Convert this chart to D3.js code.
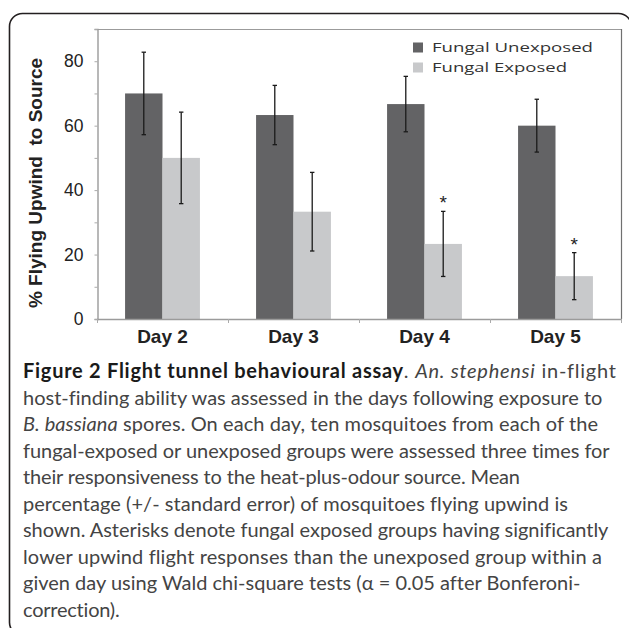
<!DOCTYPE html>
<html><head><meta charset="utf-8">
<script src="https://cdn.jsdelivr.net/npm/d3@7"></script>
<style>body{margin:0;background:#fff} svg{display:block}</style>
</head><body>
<svg id="c" width="629" height="628"></svg>
<script>
// ---------- data ----------
const categories = ["Day 2", "Day 3", "Day 4", "Day 5"];
const seriesNames = ["Fungal Unexposed", "Fungal Exposed"];
const unexposed = [70, 63.3, 66.7, 60];
const unexposedErr = [12.8, 9.2, 8.6, 8.2];
const exposed = [50, 33.3, 23.3, 13.3];
const exposedErr = [14.2, 12.2, 10.1, 7.3];
const significant = [false, false, true, true];
const yTickLabels = [0, 20, 40, 60, 80];
const yMinorTicks = [0, 10, 20, 30, 40, 50, 60, 70, 80, 90];
const yAxisTitle = "% Flying Upwind  to Source";
const captionLines = [
  [["Figure 2 Flight tunnel behavioural assay", "b"], [". ", "r"], ["An. stephensi", "i"], [" in-flight", "r"]],
  [["host-finding ability was assessed in the days following exposure to", "r"]],
  [["B. bassiana", "i"], [" spores. On each day, ten mosquitoes from each of the", "r"]],
  [["fungal-exposed or unexposed groups were assessed three times for", "r"]],
  [["their responsiveness to the heat-plus-odour source. Mean", "r"]],
  [["percentage (+/- standard error) of mosquitoes flying upwind is", "r"]],
  [["shown. Asterisks denote fungal exposed groups having significantly", "r"]],
  [["lower upwind flight responses than the unexposed group within a", "r"]],
  [["given day using Wald chi-square tests (\u03b1 = 0.05 after Bonferoni-", "r"]],
  [["correction).", "r"]]
];

// ---------- layout ----------
const M = {left: 97, right: 621, top: 29, bottom: 319};
const captionX = 23, captionY0 = 378, captionLH = 26.5;
const captionRight = [616, 602, 598, 610, 520, 568, 608, 602, 580, 120];
const legendX = 432, legendRight = [593, 567];

const svg = d3.select("#c");

// outer rounded border
svg.append("rect")
  .attr("x", 9.5).attr("y", 13.5).attr("width", 622).attr("height", 622)
  .attr("rx", 13).attr("fill", "none").attr("stroke", "#231f20").attr("stroke-width", 1.6);

const x0 = d3.scaleBand().domain(categories).range([M.left, M.right])
  .paddingInner(1.5 / 3.5).paddingOuter(0.75 / 3.5);
const x1 = d3.scaleBand().domain(seriesNames).range([0, x0.bandwidth()]);
const y = d3.scaleLinear().domain([0, 90]).range([M.bottom, M.top]);
const color = d3.scaleOrdinal().domain(seriesNames).range(["#636365", "#c8c9cb"]);

// frame top & right
svg.append("line").attr("x1", M.left).attr("x2", M.right).attr("y1", M.top + 0.5).attr("y2", M.top + 0.5)
  .attr("stroke", "#9b9b9b").attr("stroke-width", 1.2);
svg.append("line").attr("x1", M.right + 0.5).attr("x2", M.right + 0.5).attr("y1", M.top).attr("y2", M.bottom)
  .attr("stroke", "#707070").attr("stroke-width", 1.2);

// bars
const rows = categories.map((c, i) => ({
  cat: c,
  vals: [
    {s: seriesNames[0], v: unexposed[i], e: unexposedErr[i], sig: false},
    {s: seriesNames[1], v: exposed[i], e: exposedErr[i], sig: significant[i]}
  ]
}));

const g = svg.append("g");
const groups = g.selectAll("g.grp").data(rows).join("g")
  .attr("transform", d => `translate(${x0(d.cat)},0)`);
groups.selectAll("rect").data(d => d.vals).join("rect")
  .attr("x", d => x1(d.s)).attr("width", x1.bandwidth())
  .attr("y", d => y(d.v)).attr("height", d => y(0) - y(d.v))
  .attr("fill", d => color(d.s));

// error bars
const cap = 2.2;
groups.selectAll("g.err").data(d => d.vals).join("g").attr("class", "err")
  .each(function(d) {
    const cx = x1(d.s) + x1.bandwidth() / 2;
    const sel = d3.select(this).attr("stroke", "#1a1a1a").attr("stroke-width", 1.3);
    sel.append("line").attr("x1", cx).attr("x2", cx).attr("y1", y(d.v + d.e)).attr("y2", y(d.v - d.e));
    sel.append("line").attr("x1", cx - cap).attr("x2", cx + cap).attr("y1", y(d.v + d.e)).attr("y2", y(d.v + d.e));
    sel.append("line").attr("x1", cx - cap).attr("x2", cx + cap).attr("y1", y(d.v - d.e)).attr("y2", y(d.v - d.e));
    if (d.sig) {
      d3.select(this.parentNode).append("text")
        .attr("x", cx).attr("y", y(d.v + d.e) - 2)
        .attr("text-anchor", "middle")
        .attr("font-family", "Liberation Sans, Arial, sans-serif")
        .attr("font-size", 19).attr("fill", "#222").text("*");
    }
  });

// y axis
const yAxis = d3.axisLeft(y).tickValues(yMinorTicks).tickSize(3).tickPadding(11)
  .tickFormat(d => yTickLabels.includes(d) ? d : "");
const ya = svg.append("g").attr("transform", `translate(${M.left + 0.5},0)`).call(yAxis);
ya.select(".domain").attr("stroke", "#9b9b9b").attr("stroke-width", 1.4);
ya.selectAll(".tick line").attr("stroke", "#aaa");
ya.selectAll(".tick text").attr("font-family", "Liberation Sans, Arial, sans-serif")
  .attr("font-size", 17.5).attr("fill", "#222");

// x axis
const step = x0.step();
const bounds = d3.range(categories.length + 1).map(i => M.left + i * step);
svg.append("line").attr("x1", M.left).attr("x2", M.right + 1).attr("y1", M.bottom + 0.5).attr("y2", M.bottom + 0.5)
  .attr("stroke", "#9b9b9b").attr("stroke-width", 1.4);
svg.append("g").selectAll("line").data(bounds).join("line")
  .attr("x1", d => d + 0.5).attr("x2", d => d + 0.5).attr("y1", M.bottom).attr("y2", M.bottom + 4)
  .attr("stroke", "#aaa");
svg.append("g").selectAll("text").data(categories).join("text")
  .attr("x", d => x0(d) + x0.bandwidth() / 2).attr("y", 343)
  .attr("text-anchor", "middle")
  .attr("font-family", "Liberation Sans, Arial, sans-serif")
  .attr("font-weight", "bold").attr("font-size", 19).attr("fill", "#222")
  .text(d => d);

// y axis title
svg.append("text")
  .attr("transform", `translate(42,183) rotate(-90)`)
  .attr("text-anchor", "middle")
  .style("white-space", "pre")
  .attr("font-family", "Liberation Sans, Arial, sans-serif")
  .attr("font-weight", "bold").attr("font-size", 19).attr("fill", "#222")
  .text(yAxisTitle);

// legend (glyphs are stretched horizontally in the reference)
const leg = svg.append("g");
seriesNames.forEach((s, i) => {
  leg.append("rect").attr("x", 413).attr("y", 42.5 + i * 20).attr("width", 10).attr("height", 10).attr("fill", color(s));
  leg.append("text").attr("x", legendX).attr("y", 52 + i * 20)
    .attr("font-family", "Open Sans, sans-serif").attr("font-size", 13.5).attr("fill", "#333")
    .attr("textLength", legendRight[i] - legendX)
    .attr("lengthAdjust", "spacingAndGlyphs")
    .text(s);
});

// caption
const cap0 = svg.append("g").attr("font-family", "Lato, sans-serif").attr("font-size", 18);
const capTexts = captionLines.map((segs, i) => {
  const t = cap0.append("text").attr("x", captionX).attr("y", captionY0 + i * captionLH);
  segs.forEach(([txt, st]) => {
    t.append("tspan").text(txt)
      .attr("font-weight", st === "b" ? "bold" : null)
      .attr("font-style", st === "i" ? "italic" : null)
      .attr("fill", st === "b" ? "#1a1a1a" : "#444");
  });
  return t;
});
// fit font size to second line, then fine-tune each line with letter-spacing
const natural = capTexts[1].node().getComputedTextLength();
const fs = 18 * (captionRight[1] - captionX) / natural;
cap0.attr("font-size", fs);
capTexts.forEach((t, i) => {
  const w = t.node().getComputedTextLength();
  const n = t.text().length;
  const ls = ((captionRight[i] - captionX) - w) / Math.max(1, n - 1);
  t.attr("letter-spacing", ls.toFixed(3));
});
</script>
</body></html>
